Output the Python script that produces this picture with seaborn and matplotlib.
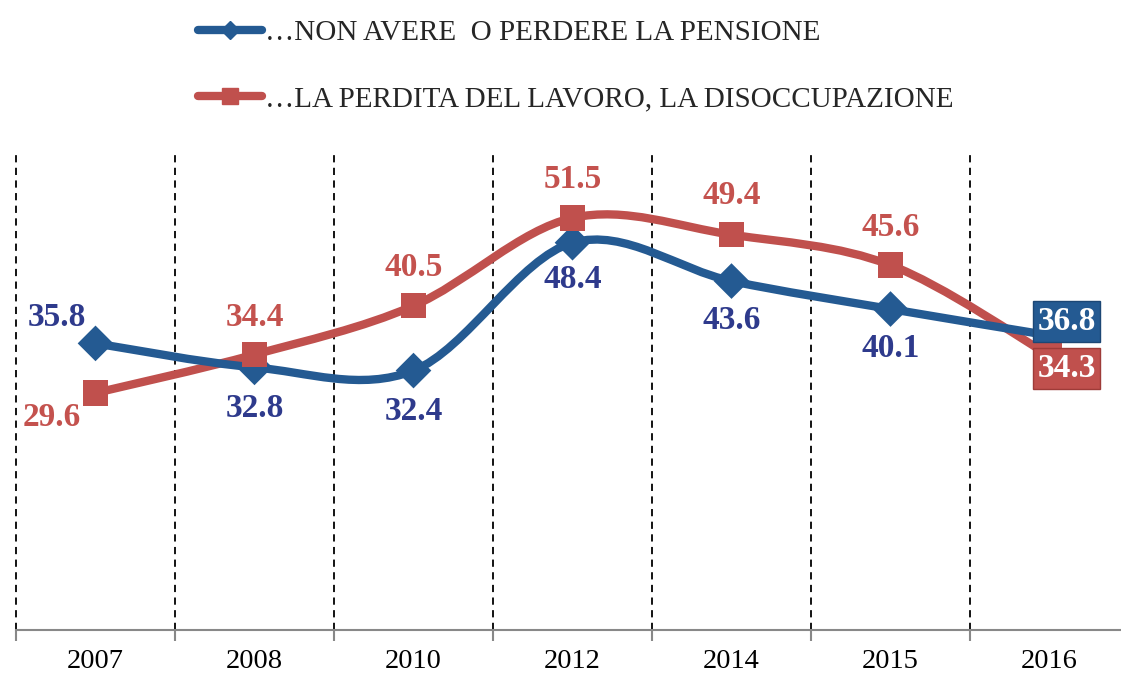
import numpy as np
import pandas as pd
import matplotlib
matplotlib.use("Agg")
import matplotlib.pyplot as plt
from matplotlib.path import Path
from matplotlib.patches import PathPatch
from matplotlib.lines import Line2D
import seaborn as sns

# data
anni = ["2007", "2008", "2010", "2012", "2014", "2015", "2016"]
pensione = [35.8, 32.8, 32.4, 48.4, 43.6, 40.1, 36.8]
lavoro = [29.6, 34.4, 40.5, 51.5, 49.4, 45.6, 34.3]
serie_pensione = "…NON AVERE  O PERDERE LA PENSIONE"
serie_lavoro = "…LA PERDITA DEL LAVORO, LA DISOCCUPAZIONE"

blu = "#245A92"
rosso = "#C0504D"
blu_testo = "#2E3A8C"
rosso_testo = "#C4524E"

sns.set_style("white")
plt.rcParams["font.family"] = ["Liberation Serif", "DejaVu Serif"]

df = pd.DataFrame({
    "pos": list(range(len(anni))) * 2,
    "valore": pensione + lavoro,
    "serie": [serie_pensione] * len(anni) + [serie_lavoro] * len(anni),
})

fig = plt.figure(figsize=(11.21, 6.73), dpi=100)
ax = fig.add_axes([16 / 1121, (673 - 629.5) / 673, 1113 / 1121, 479.5 / 673])


def smooth_path(xs, ys):
    # bezier smoothing like the spreadsheet "smoothed line" option
    pts = np.column_stack([xs, ys]).astype(float)
    n = len(pts)
    verts = [pts[0]]
    codes = [Path.MOVETO]
    for i in range(n - 1):
        p0 = pts[max(i - 1, 0)]
        p1 = pts[i]
        p2 = pts[i + 1]
        p3 = pts[min(i + 2, n - 1)]
        verts += [p1 + (p2 - p0) / 6, p2 - (p3 - p1) / 6, p2]
        codes += [Path.CURVE4] * 3
    return Path(verts, codes)


x = np.arange(len(anni))
for vals, col in [(lavoro, rosso), (pensione, blu)]:
    ax.add_patch(PathPatch(smooth_path(x, vals), fill=False, edgecolor=col,
                           lw=6, capstyle="round", joinstyle="round", zorder=2))

sns.scatterplot(data=df, x="pos", y="valore", hue="serie", style="serie",
                palette={serie_pensione: blu, serie_lavoro: rosso},
                markers={serie_pensione: "D", serie_lavoro: "s"},
                s=330, linewidth=0, legend=False, ax=ax, zorder=3)

# dashed separators
for b in np.arange(-0.5, len(anni) + 0.5, 1):
    ax.axvline(b, ymin=0, ymax=1, color="black", lw=1.3,
               linestyle=(0, (4, 3)), zorder=1, clip_on=False)

ax.set_xlim(-0.5, len(anni) - 0.5)
ax.set_ylim(0, 60)
ax.set_xlabel("")
ax.set_ylabel("")
ax.set_yticks([])
ax.set_xticks(x, anni)
ax.set_xticks(np.arange(-0.5, len(anni) + 0.5, 1), minor=True)
ax.tick_params(axis="x", which="major", length=0, pad=14, labelsize=20.5,
               labelcolor="black")
ax.tick_params(axis="x", which="minor", length=8, width=1.5, color="#888888",
               direction="out", bottom=True)
for s in ["top", "left", "right"]:
    ax.spines[s].set_visible(False)
ax.spines["bottom"].set_color("#888888")
ax.spines["bottom"].set_linewidth(1.5)

# value labels (offsets in pixels)
off_blu = [(-39, 26), (0, -41), (0, -41), (0, -37), (0, -39), (0, -39)]
off_rosso = [(-44, -25), (0, 37), (0, 38), (0, 38), (0, 39), (0, 38)]
for i in range(len(anni) - 1):
    ax.annotate(f"{pensione[i]:.1f}", (i, pensione[i]), xytext=off_blu[i],
                textcoords="offset pixels", ha="center", va="center",
                fontsize=24, fontweight="bold", color=blu_testo, zorder=5)
    ax.annotate(f"{lavoro[i]:.1f}", (i, lavoro[i]), xytext=off_rosso[i],
                textcoords="offset pixels", ha="center", va="center",
                fontsize=24, fontweight="bold", color=rosso_testo, zorder=5)

last = len(anni) - 1
ax.annotate(f"{pensione[last]:.1f}", (last, pensione[last]), xytext=(17, 14),
            textcoords="offset pixels", ha="center", va="center",
            fontsize=24, fontweight="bold", color="white", zorder=6,
            bbox=dict(boxstyle="square,pad=0.14", fc=blu, ec="#1C4775", lw=1))
ax.annotate(f"{lavoro[last]:.1f}", (last, lavoro[last]), xytext=(17, -13),
            textcoords="offset pixels", ha="center", va="center",
            fontsize=24, fontweight="bold", color="white", zorder=6,
            bbox=dict(boxstyle="square,pad=0.14", fc=rosso, ec="#9E3B38", lw=1))

handles = [
    Line2D([], [], color=blu, lw=6, marker="D", markersize=9,
           solid_capstyle="round", label=serie_pensione),
    Line2D([], [], color=rosso, lw=6, marker="s", markersize=12,
           solid_capstyle="round", label=serie_lavoro),
]
fig.legend(handles=handles, loc="upper left",
           bbox_to_anchor=(198 / 1121, 1 - 20 / 673), frameon=False,
           fontsize=21, handlelength=2.2, handletextpad=0.1,
           labelspacing=1.35, borderpad=0, borderaxespad=0)

fig.savefig("out.png", dpi=100)
